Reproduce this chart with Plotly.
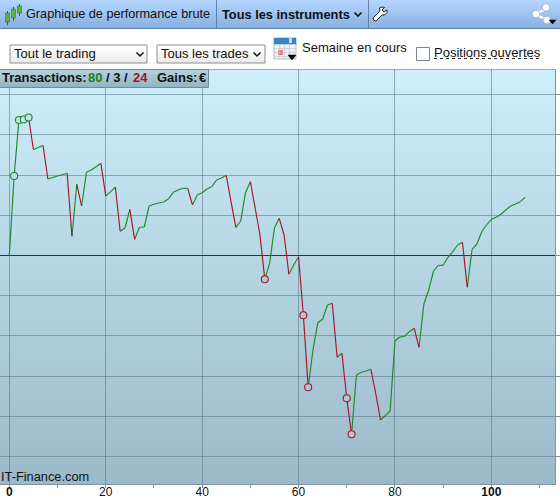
import plotly.graph_objects as go

W, H = 560, 499

trade_index = list(range(108))
performance = [
    0, 79.5, 135.5, 136, 138, 106, 108, 110, 76.5, 78, 79.5, 80.8, 82.2, 19.2, 71.2, 49.5, 83.2, 85.5,
    88.8, 92.2, 59.5, 63.9, 68.2, 24.2, 27.5, 46.2, 16.2, 28.2, 28.5, 49.5, 51.2, 52.5, 53.5, 56.5,
    63.2, 65.5, 67.2, 67.2, 50.5, 60.5, 62.8, 66.5, 68.8, 75.5, 77.5, 80.2, 53.8, 28.2, 34.5, 62.8,
    73.8, 47.5, 20.5, -23.8, -7.8, 27.5, 37.2, 20.5, -18.8, -9.5, -1.2, -59.8, -131.8, -94.5, -67.2,
    -63.5, -49.5, -47.8, -101.8, -97.8, -142.8, -178.8, -119.5, -116.8, -115.5, -113.8, -137.5, -164.5,
    -160.2, -155.5, -85.5, -81.5, -80.8, -76.2, -72.8, -91.8, -48.5, -34.5, -15.5, -9.8, -9.8, -1.8,
    3.8, 10.5, 13.2, -31.8, 6.2, 11.5, 23.8, 30.5, 36.2, 38.2, 41.2, 45.5, 49.5, 51.5, 53.8, 58.2,
]
green_markers = [1, 2, 3, 4]
red_markers = [53, 61, 62, 70, 71]
x_ticks = [0, 20, 40, 60, 80, 100]
x_tick_labels = ["<b>0</b>", "20", "40", "60", "80", "<b>100</b>"]

GREEN = "#1c8a28"
RED = "#aa1426"
TEXT = "#111111"


def px(v):
    return v / W


def py(v):
    return 1 - v / H


def mix(a, b, t):
    return "rgb(%d,%d,%d)" % tuple(round(a[i] + (b[i] - a[i]) * t) for i in range(3))


shapes = []


def rect(x0, y0, x1, y1, fill=None, line=None, lw=1, layer="above"):
    shapes.append(dict(type="rect", xref="paper", yref="paper", x0=px(x0), x1=px(x1), y0=py(y0), y1=py(y1),
                       fillcolor=fill or "rgba(0,0,0,0)", line=dict(color=line or "rgba(0,0,0,0)", width=lw if line else 0),
                       layer=layer))


def path(points, line="#111111", lw=1.5, fill=None, close=False):
    d = "M " + " L ".join(f"{px(a):.5f},{py(b):.5f}" for a, b in points) + (" Z" if close else "")
    shapes.append(dict(type="path", xref="paper", yref="paper", path=d, fillcolor=fill or "rgba(0,0,0,0)",
                       line=dict(color=line, width=lw), layer="above"))


def circle(cx, cy, r, fill="white", line="#444444", lw=0.8):
    shapes.append(dict(type="circle", xref="paper", yref="paper", x0=px(cx - r), x1=px(cx + r), y0=py(cy - r), y1=py(cy + r),
                       fillcolor=fill, line=dict(color=line, width=lw), layer="above"))


def gradient(x0, y0, x1, y1, top, bottom, step, layer="below"):
    y = y0
    while y < y1:
        e = min(y + step, y1)
        rect(x0, y, x1, e, fill=mix(top, bottom, (y - y0) / max(y1 - y0, 1)), layer=layer)
        y = e


# backgrounds
gradient(0, 0, W, 28, (180, 213, 255), (134, 174, 222), 2)
rect(0, 28, W, 29, fill="#5f82ab", layer="below")
gradient(0, 69, 555, 484, (206, 238, 251), (155, 185, 200), 5)

# toolbar separators
rect(216, 0, 217, 28, fill="#5f82ab")
rect(368, 0, 369, 28, fill="#5f82ab")

# candlestick icon
for cx, t, b, wt, wb in [(7, 13, 22, 11, 25), (13, 9, 18, 7, 21), (19, 6, 13, 4, 16)]:
    rect(cx, wt, cx + 1, wb, fill="#2d6b22")
    rect(cx - 1.5, t, cx + 2.5, b, fill="#58b43c", line="#2d6b22", lw=0.5)

# toolbar chevrons / wrench / share
path([(354.5, 12.5), (358, 16), (361.5, 12.5)], lw=1.6)
path([(373, 18), (380, 11), (379.5, 8), (382, 7), (384.5, 7.5), (382, 10), (384, 12), (387, 10), (387, 12.5),
      (384.5, 15), (382, 15), (376, 21), (374, 20.5)], fill="white", line="#222222", lw=1, close=True)
path([(549, 8), (535, 14), (549, 21)], line="white", lw=2.2)
circle(546, 7.5, 3.8, fill="white", line="#aaaaaa")
circle(536, 14, 3.8, fill="white", line="#aaaaaa")
circle(547, 20, 3.8, fill="white", line="#aaaaaa")
path([(549, 20), (556, 20), (552.5, 24)], line="#000000", lw=0.5, fill="#000000", close=True)

# dropdowns
for x0, x1, chev in [(10, 147, 140), (157, 265, 257)]:
    gradient(x0, 45, x1, 63, (255, 255, 255), (232, 232, 232), 3, layer="above")
    rect(x0, 45, x1, 63, line="#8a8f96", lw=1)
    path([(chev - 3.5, 52.5), (chev, 56), (chev + 3.5, 52.5)], lw=1.5)

# calendar icon
rect(274, 43, 296, 59, fill="#eef2f6", line="#9aa4ad", lw=0.7)
rect(274, 38, 296, 44, fill="#3b86c9", line="#2c6ea8", lw=0.5)
rect(289, 37, 292, 43, fill="#c8d4de")
rect(278, 50, 283, 55, fill="#f07a80")
for gx_ in (279, 284, 289):
    rect(gx_, 44, gx_ + 0.6, 59, fill="#b9c3cc")
for gy_ in (48, 52, 56):
    rect(274, gy_, 296, gy_ + 0.6, fill="#b9c3cc")
path([(288, 55), (296, 55), (292, 60)], line="#000000", lw=0.5, fill="#000000", close=True)

# checkbox and dotted underline
rect(416.5, 47.5, 429.5, 60.5, fill="white", line="#7d868e", lw=1)
shapes.append(dict(type="line", xref="paper", yref="paper", x0=px(434), x1=px(539), y0=py(58.5), y1=py(58.5),
                   line=dict(color="#222222", width=1, dash="dot"), layer="above"))

# plot frame and stats box
rect(0, 69, 555, 69.8, fill="#7f97a5", layer="above")
gradient(0, 70, 208, 87, (178, 208, 222), (146, 178, 192), 2, layer="above")
rect(-1, 69.5, 208.5, 87.5, line="#6f8b9a", lw=1)


def label(text, x, y, size=12, anchor="left", color=TEXT, family="Liberation Sans"):
    return dict(text=text, x=px(x - 2), y=py(y), xref="paper", yref="paper", xanchor=anchor, yanchor="middle",
                showarrow=False, font=dict(family=family, size=size, color=color), align=anchor)


annotations = [
    label("Graphique de performance brute", 26, 14, 12.7),
    label("<b>Tous les instruments</b>", 221.5, 14, 12.8),
    label("Tout le trading", 14, 53, 13),
    label("Tous les trades", 161, 53, 13),
    label("Semaine en cours", 302, 48, 13),
    label("Positions ouvertes", 434, 52.5, 13),
    label("<b>Transactions:</b>", 2, 77.5, 13),
    label('<b><span style="color:#1a7f1a">80</span></b>', 88, 77.5, 13),
    label("<b>/ 3 /</b>", 106, 77.5, 13),
    label('<b><span style="color:#a80f1e">24</span></b>', 133, 77.5, 13),
    label("<b>Gains:</b>", 157, 77.5, 13),
    label("<b>€</b>", 199, 77.5, 13),
    label("IT-Finance.com", 1, 476, 12.8),
]

# Segments coloured by direction
gx, gy, rx, ry = [], [], [], []
for i in range(len(performance) - 1):
    up = performance[i + 1] >= performance[i]
    tx, ty = (gx, gy) if up else (rx, ry)
    tx += [trade_index[i], trade_index[i + 1], None]
    ty += [performance[i], performance[i + 1], None]

fig = go.Figure()
fig.add_trace(go.Scatter(x=gx, y=gy, mode="lines", line=dict(color=GREEN, width=1.15), hoverinfo="skip"))
fig.add_trace(go.Scatter(x=rx, y=ry, mode="lines", line=dict(color=RED, width=1.15), hoverinfo="skip"))
fig.add_trace(go.Scatter(x=green_markers, y=[performance[i] for i in green_markers], mode="markers",
                         marker=dict(symbol="circle", size=7, color="#c4e4f2", line=dict(width=1.1, color=GREEN)),
                         hoverinfo="skip"))
fig.add_trace(go.Scatter(x=red_markers, y=[performance[i] for i in red_markers], mode="markers",
                         marker=dict(symbol="circle", size=7, color="#aecad7", line=dict(width=1.1, color=RED)),
                         hoverinfo="skip"))

AXIS = "#7d96a4"
GRID = "rgba(85,115,130,0.55)"
fig.update_layout(
    width=W, height=H, margin=dict(l=0, r=0, t=0, b=0, pad=0), showlegend=False, hovermode=False,
    paper_bgcolor="white", plot_bgcolor="rgba(0,0,0,0)", shapes=shapes, annotations=annotations,
    font=dict(family="Liberation Sans", size=12, color=TEXT),
    xaxis=dict(domain=[0, 555 / W], range=[-1.93, 113.2], tickmode="array", tickvals=x_ticks, ticktext=x_tick_labels,
               showgrid=True, gridcolor=GRID, gridwidth=1, zeroline=False, showline=True, linecolor=AXIS, linewidth=1,
               ticks="outside", ticklen=3, tickcolor=AXIS, tickfont=dict(size=12, color=TEXT), ticklabelstandoff=-6,
               minor=dict(dtick=10, tick0=0, ticks="outside", ticklen=3, tickcolor=AXIS, showgrid=False),
               automargin=False, fixedrange=True),
    yaxis=dict(domain=[1 - 484 / H, 1 - 69 / H], range=[-228.5, 186.5], side="right", tick0=0, dtick=40.2,
               showticklabels=False, showgrid=True, gridcolor=GRID, gridwidth=1, zeroline=True, zerolinecolor="#1f2f8f",
               zerolinewidth=1, showline=True, linecolor=AXIS, linewidth=1, ticks="outside", ticklen=5, tickcolor=AXIS,
               automargin=False, fixedrange=True),
)

fig.write_html("out.html", config=dict(displayModeBar=False),
               post_script="document.body.style.margin='0';document.body.style.overflow='hidden';")
